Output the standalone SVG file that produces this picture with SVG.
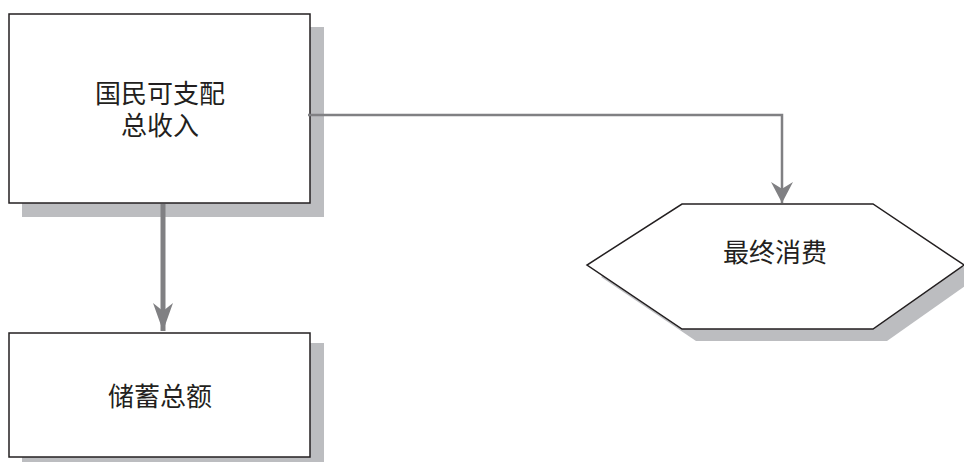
<svg xmlns="http://www.w3.org/2000/svg" width="964" height="462" viewBox="0 0 964 462">
<style>
.shadow{fill:#bcbdc0;stroke:none}
.box{fill:#ffffff;stroke:#231f20;stroke-width:1.5}
.lbl{font-family:"Liberation Sans","Noto Sans CJK SC",sans-serif;font-size:26px;fill:#231f20;text-anchor:middle}
.thick{fill:none;stroke:#808083;stroke-width:5}
.thin{fill:none;stroke:#808083;stroke-width:2.5}
</style>
<defs>
<marker id="ahBig" markerUnits="userSpaceOnUse" markerWidth="30" markerHeight="22" refX="28" refY="10" orient="auto" viewBox="0 0 30 20">
<path d="M0,0 L8,10 L0,20 L28,10 Z" fill="#808083"/>
</marker>
<marker id="ahSmall" markerUnits="userSpaceOnUse" markerWidth="22" markerHeight="22" refX="19" refY="10" orient="auto" viewBox="0 0 20 20">
<path d="M0,0 L6,10 L0,20 L19,10 Z" fill="#808083"/>
</marker>
</defs>
<g id="node-gni">
<rect class="shadow" x="22" y="27" width="302" height="190"/>
<rect class="box" x="9" y="14" width="301" height="189"/>
<text class="lbl" x="160" y="103">国民可支配</text>
<text class="lbl" x="160" y="135">总收入</text>
</g>
<g id="node-saving">
<rect class="shadow" x="22" y="343" width="302" height="125"/>
<rect class="box" x="9" y="333" width="301" height="124"/>
<text class="lbl" x="160" y="406">储蓄总额</text>
</g>
<g id="node-consumption">
<polygon class="shadow" points="696,216 887,216 978,277 887,341 696,341 601,277"/>
<polygon class="box" points="682,204 873,204 964,265 873,329 682,329 587,265"/>
<text class="lbl" x="775" y="262">最终消费</text>
</g>
<g id="connectors">
<path class="thick" d="M163,204 L163,331" marker-end="url(#ahBig)"/>
<path class="thin" d="M308,115 L782,115 L782,203" marker-end="url(#ahSmall)"/>
</g>
</svg>
